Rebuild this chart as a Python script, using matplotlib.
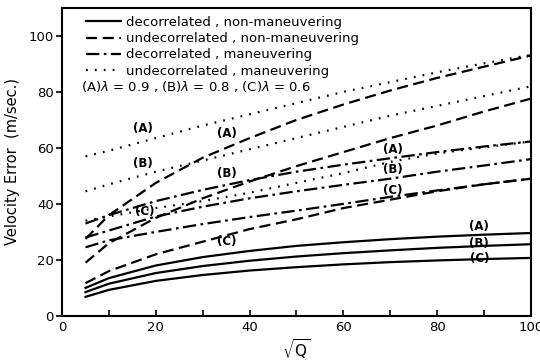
import numpy as np
import matplotlib as mpl
import matplotlib.pyplot as plt

mpl.rcParams['font.family'] = 'DejaVu Sans'

# sqrt(Q) sample points
sq = [5, 10, 20, 30, 40, 50, 60, 70, 80, 90, 100]

# decorrelated, non-maneuvering (solid)
sol_a = [10.0, 13.5, 18.0, 21.0, 23.2, 25.0, 26.3, 27.4, 28.3, 29.0, 29.6]
sol_b = [8.5, 11.5, 15.3, 17.8, 19.7, 21.2, 22.4, 23.4, 24.3, 25.0, 25.6]
sol_c = [6.8, 9.3, 12.5, 14.6, 16.2, 17.4, 18.4, 19.2, 19.8, 20.3, 20.7]

# undecorrelated, non-maneuvering (dashed)
das_a = [27.5, 36.0, 47.5, 56.5, 63.5, 70.0, 75.5, 80.5, 85.0, 89.0, 93.0]
das_b = [19.0, 26.0, 35.0, 42.0, 48.0, 53.5, 58.5, 63.5, 68.0, 73.0, 77.6]
das_c = [11.7, 16.0, 22.0, 26.5, 31.0, 34.5, 38.5, 41.5, 44.5, 47.0, 49.0]

# decorrelated, maneuvering (dash-dot)
dd_a = [33.0, 36.0, 41.0, 45.0, 48.5, 51.5, 54.0, 56.3, 58.5, 60.5, 62.3]
dd_b = [28.0, 30.5, 35.5, 39.0, 42.0, 44.5, 46.8, 49.0, 51.5, 53.7, 56.0]
dd_c = [24.5, 27.0, 30.0, 32.8, 35.3, 37.6, 40.0, 42.5, 44.8, 47.0, 49.0]

# undecorrelated, maneuvering (dotted)
dot_a = [57.0, 59.0, 63.5, 68.0, 72.0, 76.0, 80.0, 83.5, 87.0, 90.2, 93.2]
dot_b = [44.5, 47.0, 51.5, 55.5, 59.5, 63.5, 67.5, 71.5, 75.0, 78.5, 82.0]
dot_c = [34.0, 35.5, 38.5, 41.0, 44.0, 47.5, 51.0, 55.0, 58.0, 60.2, 62.3]

fig = plt.figure(figsize=(5.4, 3.61), dpi=100)
ax = fig.add_axes([0.115, 0.125, 0.868, 0.853])

lw = 1.6
dash = (0, (5, 2.5))
dashdot = (0, (6, 2, 1.2, 2))
dotted = (0, (0.8, 3.2))

ax.plot(sq, sol_a, color='black', lw=lw, ls='-', label='decorrelated , non-maneuvering')
ax.plot(sq, sol_b, color='black', lw=lw, ls='-')
ax.plot(sq, sol_c, color='black', lw=lw, ls='-')
ax.plot(sq, das_a, color='black', lw=lw, ls=dash, label='undecorrelated , non-maneuvering')
ax.plot(sq, das_b, color='black', lw=lw, ls=dash)
ax.plot(sq, das_c, color='black', lw=lw, ls=dash)
ax.plot(sq, dd_a, color='black', lw=lw, ls=dashdot, label='decorrelated , maneuvering')
ax.plot(sq, dd_b, color='black', lw=lw, ls=dashdot)
ax.plot(sq, dd_c, color='black', lw=lw, ls=dashdot)
ax.plot(sq, dot_a, color='black', lw=lw, ls=dotted, label='undecorrelated , maneuvering')
ax.plot(sq, dot_b, color='black', lw=lw, ls=dotted)
ax.plot(sq, dot_c, color='black', lw=lw, ls=dotted)

# curve labels
lab_fs = 8.5
for x, y, t in [(17.3, 67, '(A)'), (17.3, 54.5, '(B)'), (17.7, 37.4, '(C)'),
                (35.2, 65, '(A)'), (35.2, 51, '(B)'), (35.2, 26.5, '(C)'),
                (70.6, 59.4, '(A)'), (70.6, 52.3, '(B)'), (70.6, 44.8, '(C)'),
                (89, 32, '(A)'), (89, 26, '(B)'), (89, 20.6, '(C)')]:
    ax.text(x, y, t, fontsize=lab_fs, ha='center', va='center', fontweight='bold')

leg = ax.legend(loc='upper left', frameon=False, fontsize=9.5, handlelength=2.6,
                handletextpad=0.4, labelspacing=0.25, borderaxespad=0.2,
                bbox_to_anchor=(0.035, 1.0))
ax.text(0.04, 0.745, r'(A)$\lambda$ = 0.9 , (B)$\lambda$ = 0.8 , (C)$\lambda$ = 0.6',
        transform=ax.transAxes, fontsize=9.5, va='center')

ax.set_xlim(0, 100)
ax.set_ylim(0, 110)
ax.set_xticks([0, 20, 40, 60, 80, 100])
ax.set_xticks([10, 30, 50, 70, 90], minor=True)
ax.set_yticks([0, 20, 40, 60, 80, 100])
ax.tick_params(axis='x', direction='in', length=4, width=1.2, labelsize=9.5)
ax.tick_params(axis='x', which='minor', direction='in', length=4, width=1.2)
ax.tick_params(axis='y', direction='out', length=4, width=1.2, labelsize=9.5, pad=2)
for s in ax.spines.values():
    s.set_linewidth(1.5)

ax.set_ylabel('Velocity Error  (m/sec.)', fontsize=10.5, labelpad=6)
ax.set_xlabel(r'$\sqrt{\mathrm{Q}}$', fontsize=11, labelpad=2)

fig.savefig('out.png', dpi=100)
